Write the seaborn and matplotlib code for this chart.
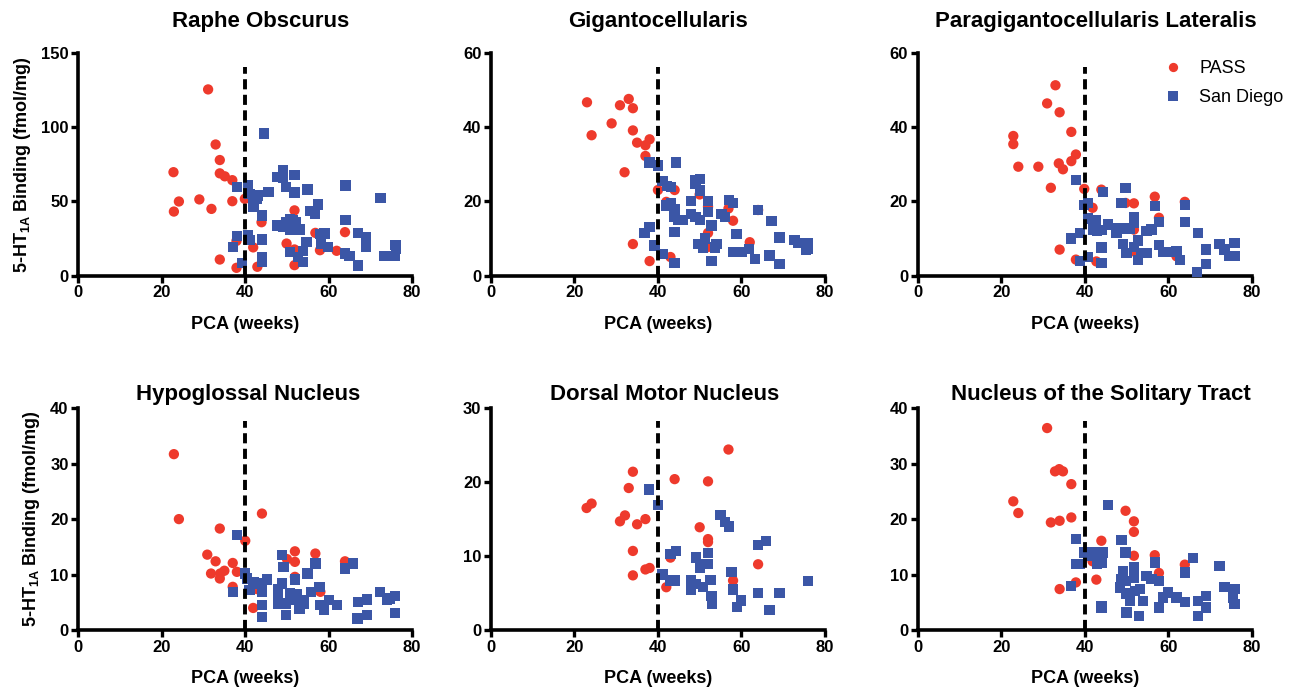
import numpy as np
import pandas as pd
import seaborn as sns
import matplotlib.pyplot as plt

# ---- data ----
titles = ["Raphe Obscurus", "Gigantocellularis", "Paragigantocellularis Lateralis",
          "Hypoglossal Nucleus", "Dorsal Motor Nucleus", "Nucleus of the Solitary Tract"]
y_max = [150, 60, 60, 40, 30, 40]
y_step = [50, 20, 20, 10, 10, 10]

# Raphe Obscurus
ro_pass_x = [31.1, 22.8, 24.1, 22.9, 29, 31.9, 32.9, 33.9, 33.9, 35.1, 36.9, 36.9, 33.9, 37.9,
             37.9, 39.9, 41.9, 42.9, 43.9, 49.9, 51.8, 51.8, 51.8, 56.8, 57.9, 61.9, 63.9]
ro_pass_y = [125.7, 69.8, 50, 43.2, 51.4, 45, 88.5, 78, 69, 67, 64.4, 50.2, 10.8, 23.4,
             5.2, 51.8, 19, 5.9, 36, 21.6, 44, 17.6, 7, 28.8, 17.1, 16.7, 29.3]
ro_sd_x = [44.5, 38, 40.7, 41, 42, 42.7, 43, 42, 44, 45.6, 47.7, 49, 49, 49.7, 51.8, 51.8,
           54.9, 55.5, 56.7, 57.5, 56.7, 47.7, 49, 49.7, 50.7, 51.5, 52.1, 51.6, 53, 50.7,
           57.9, 59, 64, 64, 72.4, 67.1, 69, 69, 73.4, 75, 75.8, 76, 76.2, 67.1, 65, 63.9,
           59.9, 58.2, 54.7, 53.9, 53.9, 52.7, 50.7, 44, 44, 44, 41, 38, 37.1, 39.3, 40.7]
ro_sd_y = [96, 60, 61, 55, 53, 52, 54, 46.4, 40.5, 56.3, 66.7, 71, 66, 60, 68, 56,
           58, 43.7, 43, 48, 41.4, 33.8, 33, 36, 38, 37.4, 36.3, 32.4, 31, 30.6,
           28, 28.4, 60.8, 37.4, 52.2, 28.8, 25.7, 19.4, 13, 13, 13, 20.7, 18.2, 6.8, 13, 14.9,
           19.4, 21.2, 22.5, 16.7, 9.2, 12.6, 15.8, 24.3, 12.2, 9.2, 23.9, 26.6, 19.4, 8.6, 27.3]

# Gigantocellularis
gc_pass_x = [23, 24.1, 28.9, 30.9, 33, 34, 34, 32, 35, 37, 38, 37, 34, 38, 40, 42, 43, 44,
             50, 52, 52, 52, 56.9, 58, 62, 64]
gc_pass_y = [46.8, 37.9, 41.1, 46, 47.7, 45.2, 39.2, 27.9, 35.9, 35.2, 36.8, 32.3, 8.5, 3.9,
             23.1, 19.9, 5, 23.1, 21.9, 18.6, 11.5, 7.7, 18.1, 14.8, 9, 17.7]
gc_sd_x = [38, 40, 44.4, 41.1, 42.2, 43.1, 42, 43.1, 44, 44, 44.8, 46, 48, 48, 49, 50, 49,
           49, 50, 52, 52, 55.2, 56, 57, 58, 58.8, 64, 67.2, 69.1, 72.7, 73.5, 75.9, 75.5,
           75.9, 69.1, 66.7, 63.2, 61.8, 60, 58, 54, 53.6, 52.8, 50.8, 49.6, 51.2, 52.8, 44,
           44, 41.1, 39.2, 38, 36.8, 50]
gc_sd_y = [30.5, 29.7, 30.5, 25.6, 24.2, 24, 18.9, 19.6, 17.8, 15.9, 15, 15, 20.2, 16.6,
           15.9, 15, 24.7, 25.8, 26, 20.2, 17.2, 16.6, 15.9, 20.4, 19.5, 11.2, 17.7, 14.8,
           10.3, 9.6, 8.8, 8.8, 6.8, 7.3, 3.1, 5.4, 4.5, 7.2, 6.3, 6.3, 8.5, 7.6, 4, 7.6, 8.6,
           10, 13.5, 11.8, 3.4, 5.9, 8.1, 13.2, 11.4, 23]

# Paragigantocellularis Lateralis
pg_pass_x = [33, 31, 34, 22.9, 22.9, 24.1, 28.9, 33.8, 34.8, 36.8, 37.9, 36.8, 31.9, 34,
             37.9, 39.9, 41.9, 42.8, 44, 49.8, 51.8, 51.8, 51.8, 56.8, 57.8, 62, 64]
pg_pass_y = [51.4, 46.5, 44.1, 37.7, 35.5, 29.4, 29.4, 30.3, 28.7, 30.9, 32.7, 38.8, 23.7, 7,
             4.3, 23.4, 18.3, 3.8, 23.2, 19.6, 19.5, 12.4, 6.5, 21.3, 15.6, 5.2, 19.9]
pg_sd_x = [37.9, 39.9, 40.8, 40.8, 42, 42.8, 42, 42.9, 44.4, 44, 45.6, 47.6, 47.6, 48.8,
           49.8, 49.8, 50.8, 51.8, 51.8, 52.8, 49.2, 50, 51.8, 52.8, 53.6, 54.8, 54.8, 56,
           56.8, 57.8, 57.8, 58.8, 60.8, 62, 62.8, 64, 64, 67.2, 66.9, 69.1, 69.1, 72.3, 73.5,
           75.9, 75.9, 74.7, 36.8, 38.8, 40.8, 38.8, 44, 44]
pg_sd_y = [25.8, 19, 19.6, 15.4, 15, 15, 12.4, 12.1, 22.6, 12.3, 13.8, 12.7, 11.5, 19.6,
           23.6, 12.7, 12.7, 15.9, 14.2, 9.5, 8.6, 6, 7.7, 4.1, 6, 6, 12.1, 12.4,
           18.7, 14.5, 8.2, 6.4, 6.4, 6.7, 4.1, 14.5, 19, 11.5, 1, 7, 3.1, 8.6, 7,
           8.8, 5.2, 5.2, 10, 11.4, 5, 4, 7.6, 3.4]

# Hypoglossal Nucleus
hn_pass_x = [22.9, 24.1, 30.9, 31.8, 32.9, 33.9, 33.9, 34, 35, 37, 37, 38, 40, 41.9, 42.8,
             44, 50, 51.9, 51.9, 51.9, 56.8, 58, 63.9]
hn_pass_y = [31.7, 20, 13.6, 10.2, 12.4, 18.3, 9.3, 10.2, 10.7, 12.1, 7.8, 10.5, 16.1, 4,
             7.4, 21, 12.8, 14.2, 12.3, 9.6, 13.8, 6.9, 12.4]
hn_sd_x = [38, 37, 40, 40.4, 41, 42, 43.2, 44, 44, 44, 44, 45.2, 47.8, 47.8, 47.8, 48.8,
           49.2, 48.8, 49.8, 49.8, 50.8, 51.6, 51.9, 52.4, 53, 54, 54, 54.9, 55.8, 56.8,
           57.8, 58, 58.8, 60, 62, 63.9, 65.9, 66.9, 67.1, 69.1, 69.1, 72.3, 73.9, 75.9,
           75.9, 74.7]
hn_sd_y = [17.2, 6.9, 10.2, 9.3, 7.2, 8.7, 8.4, 8.4, 6.9, 4.5, 2.4, 9.1, 7.3, 6, 4.8, 13.5,
           11.4, 8.4, 4.8, 2.7, 6.7, 5.4, 9.1, 6.5, 3.9, 4.8, 5.4, 10.2, 6.9, 12,
           7.8, 4.5, 3.6, 5.4, 4.5, 11.1, 12, 2.1, 5.1, 5.5, 2.7, 6.9, 5.4, 6.1,
           3.1, 5.7]

# Dorsal Motor Nucleus
dm_pass_x = [22.9, 24.1, 30.9, 32.1, 33, 34, 35, 37, 34, 34, 37, 38, 42, 43, 44, 50, 52,
             52, 52, 56.9, 58, 64]
dm_pass_y = [16.5, 17.1, 14.7, 15.5, 19.2, 21.4, 14.3, 15, 10.7, 7.4, 8.2, 8.4, 5.8, 9.8,
             20.4, 13.9, 20.1, 12.3, 11.9, 24.4, 6.7, 8.9]
dm_sd_x = [37.8, 40, 41.1, 43, 44.4, 43, 44, 48, 48, 49, 49.2, 50, 50.8, 52, 52, 52.6,
           52.8, 53, 55, 56, 57, 57.6, 58, 58.9, 59.9, 64, 65.9, 64, 66.7, 69.1, 75.9, 50]
dm_sd_y = [19, 16.9, 7.5, 10.3, 10.7, 6.7, 6.7, 6.7, 5.5, 6.2, 9.8, 8.9, 5.8, 8.9, 10.4,
           6.8, 4.6, 3.5, 15.6, 14.6, 14, 7.9, 5.5, 3.1, 4, 11.5, 12, 5, 2.7, 5, 6.6, 8.4]

# Nucleus of the Solitary Tract
ns_pass_x = [31, 22.9, 24.1, 31.9, 34, 32.9, 33.9, 34.8, 36.8, 36.8, 34, 37.9, 41.9, 42.8,
             44, 49.8, 51.8, 51.8, 51.8, 56.8, 57.8, 64]
ns_pass_y = [36.4, 23.2, 21.1, 19.4, 19.7, 28.6, 29, 28.6, 26.3, 20.3, 7.4, 8.6, 12.4, 9.1,
             16.1, 21.5, 19.6, 17.7, 13.4, 13.5, 10.3, 11.8]
ns_sd_x = [45.6, 37.9, 37.9, 36.8, 38.8, 39.9, 40.8, 42, 42.8, 42.9, 44, 44.4, 44, 44,
           48.8, 49.8, 49.2, 48.8, 48.4, 49.8, 50, 50, 50.8, 51.8, 51.8, 52, 53, 53.2, 54,
           54.8, 56, 56.8, 57.8, 57.8, 58.8, 60, 62, 64, 64, 66, 67.2, 67.2, 69.1, 69.1,
           72.3, 73.5, 75.9, 75.5, 75.9]
ns_sd_y = [22.5, 16.4, 11.9, 8, 11.9, 14, 13.4, 14, 13.4, 11.9, 12.2, 14, 4.4, 4,
           16.2, 14, 10.7, 9.2, 7.7, 8.9, 6.6, 3.2, 5.3, 11.3, 9.5, 7.1, 2.6, 7.4, 5.3,
           9.7, 9.2, 12.2, 8.8, 4.1, 5.9, 6.8, 5.9, 5.1, 10.4, 13, 2.6, 5.3, 6.2, 4.1,
           11.5, 7.8, 7.4, 5.9, 4.7]

panels = [
    (ro_pass_x, ro_pass_y, ro_sd_x, ro_sd_y),
    (gc_pass_x, gc_pass_y, gc_sd_x, gc_sd_y),
    (pg_pass_x, pg_pass_y, pg_sd_x, pg_sd_y),
    (hn_pass_x, hn_pass_y, hn_sd_x, hn_sd_y),
    (dm_pass_x, dm_pass_y, dm_sd_x, dm_sd_y),
    (ns_pass_x, ns_pass_y, ns_sd_x, ns_sd_y),
]

# ---- style ----
sns.set_style("ticks")
plt.rcParams['font.family'] = ['Liberation Sans', 'DejaVu Sans']
plt.rcParams['font.weight'] = 'bold'
plt.rcParams['mathtext.fontset'] = 'custom'
plt.rcParams['mathtext.rm'] = 'Liberation Sans:bold'
plt.rcParams['mathtext.bf'] = 'Liberation Sans:bold'
plt.rcParams['mathtext.default'] = 'bf'
for key in ['text.color', 'axes.labelcolor', 'xtick.color', 'ytick.color', 'axes.edgecolor']:
    plt.rcParams[key] = 'black'

palette = {"PASS": "#ee3a2c", "San Diego": "#3b56a6"}
markers = {"PASS": "o", "San Diego": "s"}

fig = plt.figure(figsize=(12.99, 6.94), dpi=100)
lefts = [0.0603, 0.378, 0.7065]
bottoms = [0.603, 0.092]
title_pads = [19, 6]
title_x = [0.545, 0.5, 0.533, 0.51, 0.52, 0.55]   # titles sit a little right of centre
w, h = 0.257, 0.32

for i, (px, py, sx, sy) in enumerate(panels):
    r, c = divmod(i, 3)
    ax = fig.add_axes([lefts[c], bottoms[r], w, h])
    df = pd.DataFrame({
        "pca": px + sx,
        "binding": py + sy,
        "cohort": ["PASS"] * len(px) + ["San Diego"] * len(sx),
    })
    sns.scatterplot(data=df, x="pca", y="binding", hue="cohort", style="cohort",
                    palette=palette, markers=markers, s=55, linewidth=0,
                    clip_on=False, legend=(i == 2), ax=ax, zorder=3)
    ax.axvline(40, ymin=0, ymax=0.94, color="black", ls=(0, (2.6, 1.4)), lw=2.8, zorder=4)
    ax.set_xlim(0, 80)
    ax.set_ylim(0, y_max[i])
    ax.set_xticks(np.arange(0, 81, 20))
    ax.set_yticks(np.arange(0, y_max[i] + 1, y_step[i]))
    sns.despine(ax=ax)
    for sp in ["left", "bottom"]:
        ax.spines[sp].set_linewidth(2.6)
    ax.tick_params(width=2.4, length=5, labelsize=12, pad=2)
    for lab in ax.get_xticklabels() + ax.get_yticklabels():
        lab.set_fontweight("bold")
    ax.set_title(titles[i], fontsize=16, fontweight="bold", pad=title_pads[r], x=title_x[i])
    ax.set_xlabel("PCA (weeks)", fontsize=13, fontweight="bold", labelpad=11)
    if c == 0:
        ax.set_ylabel("5-HT$_{1A}$ Binding (fmol/mg)", fontsize=13, fontweight="bold",
                      labelpad=6)
    else:
        ax.set_ylabel("")
    if i == 2:
        leg = ax.legend(loc="upper left", bbox_to_anchor=(0.71, 0.97), frameon=False,
                        fontsize=13, borderaxespad=0, borderpad=0, handlelength=2.0,
                        handletextpad=0.45, labelspacing=0.65, markerscale=0.9)
        for t in leg.get_texts():
            t.set_fontweight("normal")

fig.savefig("out.png", dpi=100)
